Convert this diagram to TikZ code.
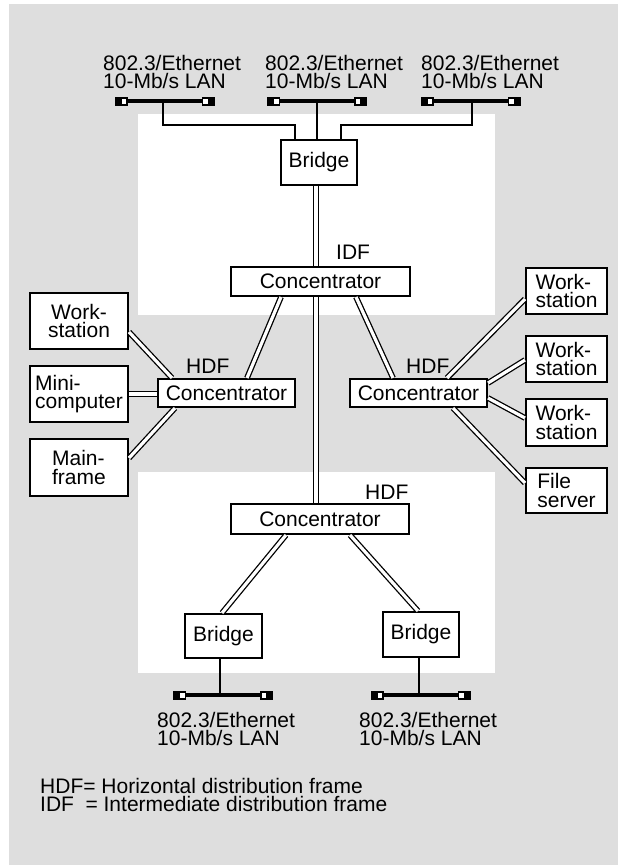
\documentclass[tikz,border=0pt]{standalone}
\usepackage{fontspec}
\setmainfont{Liberation Sans}
\usetikzlibrary{calc}
\definecolor{bg}{HTML}{DEDEDE}
\begin{document}
\begin{tikzpicture}[x=1pt,y=-1pt, font=\fontsize{21}{18.3}\selectfont,
 box/.style={draw, line width=2.4pt, fill=white, inner sep=0pt, align=center},
 lbox/.style={box, align=left},
 dbl/.style={double=white, double distance=3.2pt, line width=1.3pt},
 thinline/.style={line width=1.3pt},
 lbl/.style={inner sep=0pt, align=left, anchor=north west},
 tag/.style={inner sep=0pt, anchor=base west},
 lanbus/.pic={
   \draw[line width=4pt] (-48,0) -- (48,0);
   \fill (-50,-4.5) rectangle (-37,4.5);
   \fill (37,-4.5) rectangle (50,4.5);
   \fill[white] (-43,-2.5) rectangle (-38.5,2.5);
   \fill[white] (38.5,-2.5) rectangle (43,2.5);
 }]
\useasboundingbox (0,0) rectangle (618,865);
\fill[bg] (9,4) rectangle (618,865);
\fill[white] (138,114) rectangle (495,315);
\fill[white] (138,472) rectangle (495,673);

% LAN buses
\pic at (164.5,101) {lanbus};
\pic at (317,101) {lanbus};
\pic at (470.5,101) {lanbus};
\pic at (223,695) {lanbus};
\pic at (420.5,695) {lanbus};
\coordinate (tap1) at (163,101);
\coordinate (tap2) at (317,101);
\coordinate (tap3) at (472,101);
\coordinate (tapL) at (220,695);
\coordinate (tapR) at (419,695);
\coordinate (vx) at (316,0);

% nodes
\node[box, minimum width=75.6pt, minimum height=44.6pt] (bridgeT) at (319,162.5) {Bridge};
\node[box, minimum width=178.6pt, minimum height=28.6pt] (idf) at (320.5,281.5) {Concentrator};
\node[box, minimum width=136.6pt, minimum height=27.6pt] (hdfL) at (226.5,393) {Concentrator};
\node[box, minimum width=136.6pt, minimum height=27.6pt] (hdfR) at (418.5,393) {Concentrator};
\node[box, minimum width=177.6pt, minimum height=29.6pt] (hdfB) at (320,519) {Concentrator};
\node[box, minimum width=97.6pt, minimum height=55.6pt] (wsL) at (79,321) {Work-\\station};
\node[lbox, minimum width=97.6pt, minimum height=55.6pt] (mini) at (79,394) {Mini-\\computer};
\node[lbox, minimum width=97.6pt, minimum height=56.6pt] (main) at (79,467.5) {Main-\\frame};
\node[lbox, minimum width=80.6pt, minimum height=45.6pt] (ws1) at (566.5,291) {Work-\\station};
\node[lbox, minimum width=80.6pt, minimum height=45.6pt] (ws2) at (566.5,359) {Work-\\station};
\node[lbox, minimum width=80.6pt, minimum height=46.6pt] (ws3) at (566.5,422.5) {Work-\\station};
\node[lbox, minimum width=80.6pt, minimum height=44.6pt] (fs) at (566.5,490.5) {File\\server};
\node[box, minimum width=76.6pt, minimum height=43.6pt] (bridgeL) at (223.5,636) {Bridge};
\node[box, minimum width=75.6pt, minimum height=44.6pt] (bridgeR) at (421,634.5) {Bridge};

% labels
\node[lbl] (lt1) at (103,55) {802.3/Ethernet\\10-Mb/s LAN};
\node[lbl] (lt2) at (265,55) {802.3/Ethernet\\10-Mb/s LAN};
\node[lbl] (lt3) at (421,55) {802.3/Ethernet\\10-Mb/s LAN};
\node[lbl] (lbL) at (157,712) {802.3/Ethernet\\10-Mb/s LAN};
\node[lbl] (lbR) at (359,712) {802.3/Ethernet\\10-Mb/s LAN};
\node[tag] (idftag) at (336,259) {IDF};
\node[tag] (hdfLtag) at (186,373) {HDF};
\node[tag] (hdfRtag) at (406,373) {HDF};
\node[tag] (hdfBtag) at (365,499) {HDF};
\node[lbl] (legend) at (40,778) {HDF= Horizontal distribution frame\\IDF\hspace{0.55em}= Intermediate distribution frame};

% LAN to top bridge
\draw[thinline] (tap1) |- ($(bridgeT.north west)+(15,-14)$) -- ($(bridgeT.north west)+(15,0)$);
\draw[thinline] (tap2) -- (bridgeT.north -| tap2);
\draw[thinline] (tap3) |- ($(bridgeT.north east)+(-17,-14)$) -- ($(bridgeT.north east)+(-17,0)$);

% trunk
\draw[dbl] (bridgeT.south -| vx) -- (idf.north -| vx);
\draw[dbl] (idf.south -| vx) -- (hdfB.north -| vx);
\draw[dbl] ($(idf.south west)+(51,0)$) -- ($(hdfL.north west)+(90,0)$);
\draw[dbl] ($(idf.south west)+(126,0)$) -- ($(hdfR.north west)+(44,0)$);

% left HDF
\draw[dbl] ($(wsL.north east)+(0,40)$) -- ($(hdfL.north west)+(15,0)$);
\draw[dbl] (mini.east) -- (mini.east -| hdfL.west);
\draw[dbl] ($(main.north east)+(0,20)$) -- ($(hdfL.south west)+(18,0)$);

% right HDF
\draw[dbl] ($(hdfR.north west)+(98,0)$) -- ($(ws1.south west)+(0,-16)$);
\draw[dbl] ($(hdfR.north east)+(0,5)$) -- ($(ws2.south west)+(0,-23)$);
\draw[dbl] ($(hdfR.south east)+(0,-10)$) -- ($(ws3.north west)+(0,20)$);
\draw[dbl] ($(hdfR.south west)+(104,0)$) -- ($(fs.north west)+(0,16)$);

% bottom HDF
\draw[dbl] ($(hdfB.south west)+(56,0)$) -- ($(bridgeL.north west)+(38,0)$);
\draw[dbl] ($(hdfB.south west)+(120,0)$) -- ($(bridgeR.north west)+(36,0)$);
\draw[thinline] (bridgeL.south -| tapL) -- (tapL);
\draw[thinline] (bridgeR.south -| tapR) -- (tapR);
\end{tikzpicture}
\end{document}
